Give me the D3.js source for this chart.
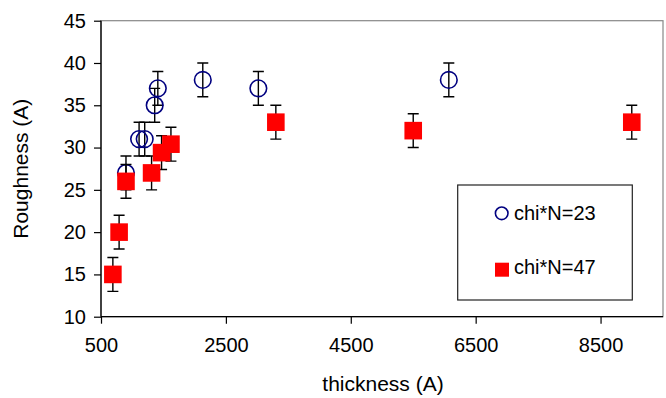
<!DOCTYPE html>
<html>
<head>
<meta charset="utf-8">
<script src="https://cdn.jsdelivr.net/npm/d3@7"></script>
<style>
  body { margin: 0; background: #fff; }
  text { font-family: "Liberation Sans", Arial, sans-serif; fill: #000; }
</style>
</head>
<body>
<div id="chart"></div>
<script>
// series chi*N=23 (open circles)
const thick23 = [900, 1110, 1200, 1360, 1410, 2130, 3020, 6070];
const rough23 = [27, 31, 31, 35, 37, 38, 37, 38];
const err23   = [2, 2, 2, 2, 2, 2, 2, 2];

// series chi*N=47 (filled squares)
const thick47 = [690, 790, 900, 1310, 1470, 1620, 3300, 5500, 9000];
const rough47 = [15, 20, 26, 27, 29.4, 30.4, 33, 32, 33];
const err47   = [2, 2, 2, 2, 2, 2, 2, 2, 2];

const xTicks = [500, 2500, 4500, 6500, 8500];
const yTicks = [10, 15, 20, 25, 30, 35, 40, 45];
const seriesNames = ["chi*N=23", "chi*N=47"];

const W = 666, H = 398;
const m = { left: 101, right: 3, top: 20.7, bottom: 81.3 };

const svg = d3.select("#chart").append("svg")
  .attr("width", W).attr("height", H);

const x = d3.scaleLinear().domain([500, 9500]).range([m.left, W - m.right]);
const y = d3.scaleLinear().domain([10, 45]).range([H - m.bottom, m.top]);

// plot area frame (gray top / right)
svg.append("rect")
  .attr("x", x(500)).attr("y", y(45))
  .attr("width", x(9500) - x(500)).attr("height", y(10) - y(45))
  .attr("fill", "none").attr("stroke", "#888").attr("stroke-width", 1.2);

// axes
const xAxis = svg.append("g")
  .attr("transform", `translate(0,${y(10)})`)
  .call(d3.axisBottom(x).tickValues(xTicks).tickSize(7).tickPadding(14).tickFormat(d3.format("d")));
const yAxis = svg.append("g")
  .attr("transform", `translate(${x(500)},0)`)
  .call(d3.axisLeft(y).tickValues(yTicks).tickSize(7).tickPadding(8));

[xAxis, yAxis].forEach(g => {
  g.select(".domain").attr("stroke", "#000").attr("stroke-width", 1.3);
  g.selectAll(".tick line").attr("stroke", "#000").attr("stroke-width", 1.2);
  g.selectAll("text").attr("font-size", 20).attr("fill", "#000")
    .style("font-family", '"Liberation Sans", Arial, sans-serif');
});
// x axis line spans full width
xAxis.select(".domain").attr("d", `M${x(500)},0H${x(9500)}`);
yAxis.select(".domain").attr("d", `M0,${y(10)}V${y(45)}`);

// axis titles
svg.append("text")
  .attr("x", 383).attr("y", 391)
  .attr("text-anchor", "middle").attr("font-size", 21)
  .text("thickness (A)");
svg.append("text")
  .attr("transform", `translate(28,${(y(10) + y(45)) / 2}) rotate(-90)`)
  .attr("text-anchor", "middle").attr("font-size", 21)
  .text("Roughness (A)");

const cap = 5.5;
function errorBars(g, xs, ys, es) {
  const d = xs.map((v, i) => ({ x: v, y: ys[i], e: es[i] }));
  const eb = g.append("g").attr("stroke", "#000").attr("stroke-width", 1.4).attr("fill", "none");
  eb.selectAll("path").data(d).join("path")
    .attr("d", p => {
      const cx = x(p.x), y0 = y(p.y - p.e), y1 = y(p.y + p.e);
      return `M${cx},${y0}V${y1}M${cx - cap},${y0}H${cx + cap}M${cx - cap},${y1}H${cx + cap}`;
    });
}

// series 1: circles
const s1 = svg.append("g");
errorBars(s1, thick23, rough23, err23);
s1.selectAll("circle").data(thick23).join("circle")
  .attr("cx", d => x(d))
  .attr("cy", (d, i) => y(rough23[i]))
  .attr("r", 8.3)
  .attr("fill", "none")
  .attr("stroke", "#000080")
  .attr("stroke-width", 1.6);

// series 2: squares
const s2 = svg.append("g");
errorBars(s2, thick47, rough47, err47);
const sq = 17.6;
s2.selectAll("rect").data(thick47).join("rect")
  .attr("x", d => x(d) - sq / 2)
  .attr("y", (d, i) => y(rough47[i]) - sq / 2)
  .attr("width", sq).attr("height", sq)
  .attr("fill", "#ff0000");

// legend
const lg = svg.append("g");
lg.append("rect")
  .attr("x", 457.7).attr("y", 185)
  .attr("width", 174.6).attr("height", 115)
  .attr("fill", "#fff").attr("stroke", "#222").attr("stroke-width", 1.2);
lg.append("circle")
  .attr("cx", 501.7).attr("cy", 213.3).attr("r", 6.3)
  .attr("fill", "none").attr("stroke", "#000080").attr("stroke-width", 1.6);
lg.append("rect")
  .attr("x", 495).attr("y", 262.7).attr("width", 14).attr("height", 14)
  .attr("fill", "#ff0000");
lg.selectAll("text").data(seriesNames).join("text")
  .attr("x", 514)
  .attr("y", (d, i) => [219.5, 273.5][i])
  .attr("font-size", 20)
  .text(d => d);
</script>
</body>
</html>
